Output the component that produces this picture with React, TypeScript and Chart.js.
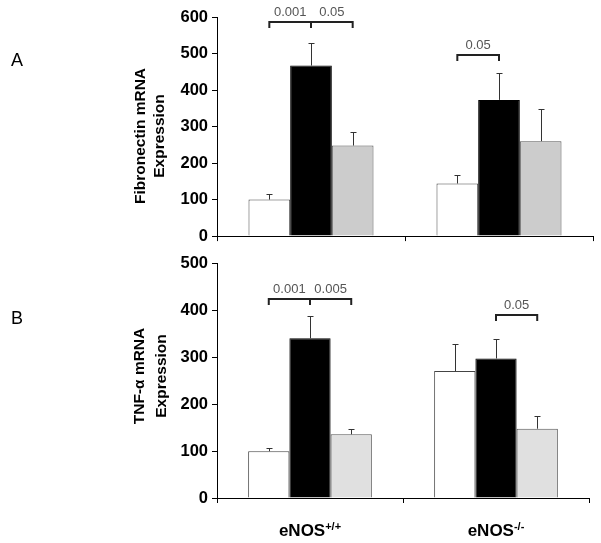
import React, { useEffect, useRef } from 'react';
import { Chart, registerables } from 'chart.js';
Chart.register(...registerables);

const FONT = '"Liberation Sans", Arial, sans-serif';

// categories
const groupBase = ['eNOS', 'eNOS'];
const groupSup = ['+/+', '-/-'];
const seriesNames = ['Control', 'Stimulus', 'Stimulus + treatment'];

// Panel A: Fibronectin mRNA
const fnWhite = [100, 144];
const fnBlack = [467, 373];
const fnGray = [248, 260];
const fnWhiteErr = [16, 22];
const fnBlackErr = [63, 74];
const fnGrayErr = [38, 89];
const fnTicks = { min: 0, max: 600, step: 100 };
// brackets: [group, seriesFrom, group, seriesTo, yValue, label]
const fnBrackets: [number, number, number, number, number, string][] = [
  [0, 0, 0, 1, 585, '0.001'],
  [0, 1, 0, 2, 585, '0.05'],
  [1, 0, 1, 1, 496, '0.05'],
];

// Panel B: TNF-α mRNA
const tnfWhite = [100, 271];
const tnfBlack = [341, 298];
const tnfGray = [136, 148];
const tnfWhiteErr = [7, 58];
const tnfBlackErr = [47, 42];
const tnfGrayErr = [12, 27];
const tnfTicks = { min: 0, max: 500, step: 100 };
const tnfBrackets: [number, number, number, number, number, string][] = [
  [0, 0, 0, 1, 425, '0.001'],
  [0, 1, 0, 2, 425, '0.005'],
  [1, 1, 1, 2, 391, '0.05'],
];

type PanelCfg = {
  letter: string;
  letterY: number;
  titleLines: string[];
  titleX: number[];
  titleY: number;
  values: number[][];
  errors: number[][];
  colors: string[];
  borders: string[];
  ticks: { min: number; max: number; step: number };
  brackets: [number, number, number, number, number, string][];
  showXLabels: boolean;
  xLabelY: number;
  height: number;
  padTop: number;
  padRight: number;
  xAxisHeight: number;
};

function makePlugin(cfg: PanelCfg) {
  return {
    id: 'annot',
    afterDatasetsDraw(chart: any) {
      const ctx = chart.ctx;
      const ys = chart.scales.y;
      ctx.save();
      // error bars
      ctx.strokeStyle = '#333';
      ctx.lineWidth = 1;
      cfg.values.forEach((vals, i) => {
        const meta = chart.getDatasetMeta(i);
        vals.forEach((v, j) => {
          const bar = meta.data[j];
          const top = ys.getPixelForValue(v + cfg.errors[i][j]);
          const x = Math.round(bar.x) + 0.5;
          ctx.beginPath();
          ctx.moveTo(x, bar.y);
          ctx.lineTo(x, Math.round(top) + 0.5);
          ctx.moveTo(x - 3, Math.round(top) + 0.5);
          ctx.lineTo(x + 3, Math.round(top) + 0.5);
          ctx.stroke();
        });
      });
      // brackets
      ctx.strokeStyle = '#222';
      ctx.lineWidth = 2;
      ctx.fillStyle = '#555';
      ctx.font = `13px ${FONT}`;
      ctx.textAlign = 'center';
      ctx.textBaseline = 'alphabetic';
      cfg.brackets.forEach(([g1, s1, g2, s2, val, label]) => {
        const x1 = chart.getDatasetMeta(s1).data[g1].x;
        const x2 = chart.getDatasetMeta(s2).data[g2].x;
        const y = Math.round(ys.getPixelForValue(val));
        ctx.beginPath();
        ctx.moveTo(x1, y + 6);
        ctx.lineTo(x1, y);
        ctx.lineTo(x2, y);
        ctx.lineTo(x2, y + 6);
        ctx.stroke();
        ctx.fillText(label, (x1 + x2) / 2, y - 6);
      });
      ctx.restore();
    },
    afterDraw(chart: any) {
      const ctx = chart.ctx;
      ctx.save();
      ctx.fillStyle = '#000';
      ctx.font = `18px ${FONT}`;
      ctx.textAlign = 'left';
      ctx.textBaseline = 'middle';
      ctx.fillText(cfg.letter, 11, cfg.letterY);
      // y title
      ctx.font = `bold 15.5px ${FONT}`;
      ctx.textAlign = 'center';
      cfg.titleLines.forEach((line, k) => {
        ctx.save();
        ctx.translate(cfg.titleX[k], cfg.titleY);
        ctx.rotate(-Math.PI / 2);
        ctx.fillText(line, 0, 0);
        ctx.restore();
      });
      if (cfg.showXLabels) {
        const xs = chart.scales.x;
        groupBase.forEach((base, i) => {
          const cx = xs.getPixelForValue(i);
          ctx.font = `bold 17px ${FONT}`;
          const w1 = ctx.measureText(base).width;
          ctx.font = `bold 11px ${FONT}`;
          const w2 = ctx.measureText(groupSup[i]).width;
          const start = cx - (w1 + w2) / 2;
          ctx.textAlign = 'left';
          ctx.textBaseline = 'alphabetic';
          ctx.font = `bold 17px ${FONT}`;
          ctx.fillText(base, start, cfg.xLabelY);
          ctx.font = `bold 11px ${FONT}`;
          ctx.fillText(groupSup[i], start + w1, cfg.xLabelY - 6);
        });
      }
      ctx.restore();
    },
  };
}

function Panel({ cfg }: { cfg: PanelCfg }) {
  const ref = useRef<HTMLCanvasElement>(null);
  useEffect(() => {
    const chart = new Chart(ref.current!, {
      type: 'bar',
      data: {
        labels: groupBase.map((b, i) => b + groupSup[i]),
        datasets: cfg.values.map((vals, i) => ({
          label: seriesNames[i],
          data: vals,
          backgroundColor: cfg.colors[i],
          borderColor: cfg.borders[i],
          borderWidth: 1,
          categoryPercentage: 0.665,
          barPercentage: 1,
        })),
      },
      options: {
        responsive: false,
        animation: false,
        events: [],
        layout: { padding: { top: cfg.padTop, right: cfg.padRight, left: 0, bottom: 0 } },
        plugins: { legend: { display: false }, tooltip: { enabled: false }, title: { display: false } },
        scales: {
          x: {
            grid: { display: true, drawOnChartArea: false, drawTicks: true, tickLength: 5, color: '#000', offset: true },
            border: { display: true, color: '#000', width: 1 },
            ticks: { display: false },
            afterFit: (s: any) => { s.height = cfg.xAxisHeight; },
          },
          y: {
            min: cfg.ticks.min,
            max: cfg.ticks.max,
            grid: { display: true, drawOnChartArea: false, drawTicks: true, tickLength: 5, color: '#000' },
            border: { display: true, color: '#000', width: 1 },
            ticks: {
              stepSize: cfg.ticks.step,
              color: '#000',
              padding: 4,
              font: { family: FONT, size: 16.5, weight: 'bold' },
            },
            afterFit: (s: any) => { s.width = 217; },
          },
        },
      },
      plugins: [makePlugin(cfg)],
    } as any);
    return () => chart.destroy();
  }, [cfg]);
  return <canvas ref={ref} width={601} height={cfg.height} style={{ display: 'block' }} />;
}

const panelA: PanelCfg = {
  letter: 'A',
  letterY: 61,
  titleLines: ['Fibronectin mRNA', 'Expression'],
  titleX: [141, 160],
  titleY: 136,
  values: [fnWhite, fnBlack, fnGray],
  errors: [fnWhiteErr, fnBlackErr, fnGrayErr],
  colors: ['#ffffff', '#000000', '#cccccc'],
  borders: ['#444444', '#000000', '#555555'],
  ticks: fnTicks,
  brackets: fnBrackets,
  showXLabels: false,
  xLabelY: 0,
  height: 250,
  padTop: 17,
  padRight: 8,
  xAxisHeight: 9,
};

const panelB: PanelCfg = {
  letter: 'B',
  letterY: 69,
  titleLines: ['TNF-α mRNA', 'Expression'],
  titleX: [140, 162],
  titleY: 126,
  values: [tnfWhite, tnfBlack, tnfGray],
  errors: [tnfWhiteErr, tnfBlackErr, tnfGrayErr],
  colors: ['#ffffff', '#000000', '#e0e0e0'],
  borders: ['#444444', '#000000', '#555555'],
  ticks: tnfTicks,
  brackets: tnfBrackets,
  showXLabels: true,
  xLabelY: 286,
  height: 293,
  padTop: 13,
  padRight: 12,
  xAxisHeight: 45,
};

export default function App() {
  useEffect(() => {
    document.body.style.margin = '0';
  }, []);
  return (
    <div style={{ width: 601, height: 543, background: '#fff', position: 'relative' }}>
      <Panel cfg={panelA} />
      <Panel cfg={panelB} />
    </div>
  );
}
